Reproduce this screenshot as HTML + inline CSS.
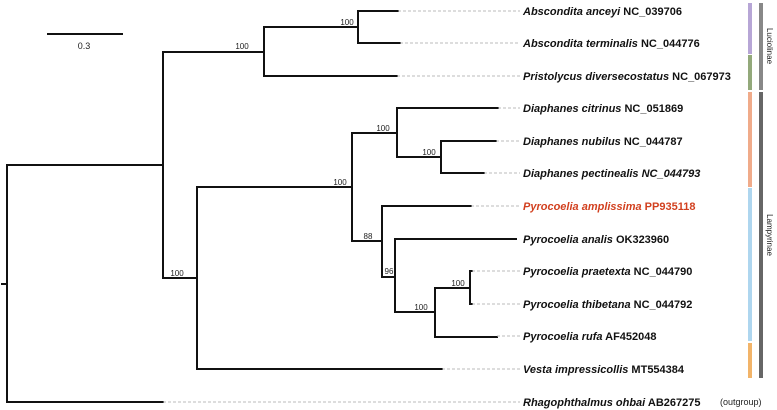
<!DOCTYPE html>
<html><head><meta charset="utf-8"><style>
body{margin:0;background:#fff}
svg{display:block}
.t{font-family:"Liberation Sans",sans-serif;font-size:11px;font-weight:bold;fill:#111}
.b{font-family:"Liberation Sans",sans-serif;font-size:8px;fill:#222}
</style></head><body>
<svg width="777" height="410" viewBox="0 0 777 410" xmlns="http://www.w3.org/2000/svg">
<g stroke="#111" stroke-width="2" fill="none" stroke-linecap="square">
<path d="M2 284H7M7 165V402M7 165H163M7 402H163"/>
<path d="M163 52V278M163 52H264M264 27V76M264 27H358M358 11V43M358 11H398M358 43H400M264 76H397"/>
<path d="M163 278H197M197 187V369M197 369H442M197 187H352M352 133V241"/>
<path d="M352 133H397M397 108V157M397 108H498M397 157H441M441 141V173M441 141H496M441 173H484"/>
<path d="M352 241H382M382 206V277M382 206H471M382 277H395M395 239V312M395 239H516M395 312H435M435 288V337M435 337H497M435 288H470M470 271V304M470 271H472M470 304H472"/>
<path d="M48 34H122"/>
</g>
<g stroke="#bbb" stroke-width="1" stroke-dasharray="3,2">
<path d="M398 11H520M400 43H520M397 76H520M498 108H520M496 141H520M484 173H520M471 206H520M472 271H520M472 304H520M497 336H520M442 369H520M163 402H520"/>
</g>
<g class="b">
<text x="84" y="49" text-anchor="middle" font-size="9">0.3</text>
<text x="347" y="25" text-anchor="middle">100</text>
<text x="242" y="49" text-anchor="middle">100</text>
<text x="383" y="131" text-anchor="middle">100</text>
<text x="429" y="155" text-anchor="middle">100</text>
<text x="340" y="185" text-anchor="middle">100</text>
<text x="177" y="276" text-anchor="middle">100</text>
<text x="368" y="239" text-anchor="middle">88</text>
<text x="389" y="274" text-anchor="middle">96</text>
<text x="421" y="310" text-anchor="middle">100</text>
<text x="458" y="286" text-anchor="middle">100</text>
<text x="720" y="405" font-size="9">(outgroup)</text>
</g>
<g class="t">
<text x="523" y="15"><tspan font-style="italic">Abscondita anceyi</tspan> NC_039706</text>
<text x="523" y="47"><tspan font-style="italic">Abscondita terminalis</tspan> NC_044776</text>
<text x="523" y="80"><tspan font-style="italic">Pristolycus diversecostatus</tspan> NC_067973</text>
<text x="523" y="112"><tspan font-style="italic">Diaphanes citrinus</tspan> NC_051869</text>
<text x="523" y="145"><tspan font-style="italic">Diaphanes nubilus</tspan> NC_044787</text>
<text x="523" y="177" font-style="italic">Diaphanes pectinealis NC_044793</text>
<text x="523" y="210" fill="#d2401f" style="fill:#d2401f"><tspan font-style="italic">Pyrocoelia amplissima</tspan> PP935118</text>
<text x="523" y="243"><tspan font-style="italic">Pyrocoelia analis</tspan> OK323960</text>
<text x="523" y="275"><tspan font-style="italic">Pyrocoelia praetexta</tspan> NC_044790</text>
<text x="523" y="308"><tspan font-style="italic">Pyrocoelia thibetana</tspan> NC_044792</text>
<text x="523" y="340"><tspan font-style="italic">Pyrocoelia rufa</tspan> AF452048</text>
<text x="523" y="373"><tspan font-style="italic">Vesta impressicollis</tspan> MT554384</text>
<text x="523" y="406"><tspan font-style="italic">Rhagophthalmus ohbai</tspan> AB267275</text>
</g>
<rect x="748" y="3" width="4" height="51" fill="#b7a6d6"/>
<rect x="748" y="55" width="4" height="35" fill="#93a97b"/>
<rect x="748" y="92" width="4" height="95" fill="#f0ab8a"/>
<rect x="748" y="188" width="4" height="153" fill="#aed6ef"/>
<rect x="748" y="343" width="4" height="35" fill="#f2b469"/>
<rect x="759" y="3" width="4" height="87" fill="#888"/>
<rect x="759" y="92" width="4" height="286" fill="#666"/>
<text class="b" font-size="11" transform="translate(767,46) rotate(90)" text-anchor="middle">Luciolinae</text>
<text class="b" font-size="11" transform="translate(767,235) rotate(90)" text-anchor="middle">Lampyrinae</text>
</svg>
</body></html>
